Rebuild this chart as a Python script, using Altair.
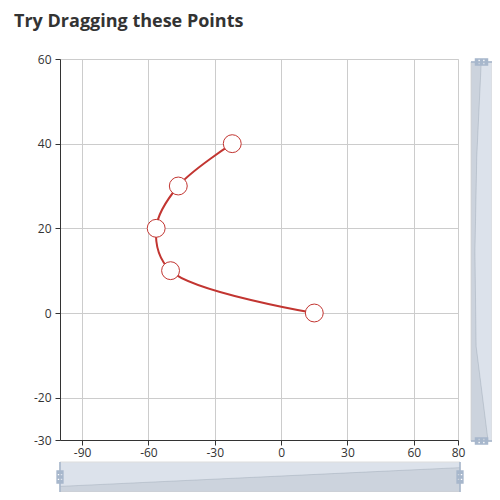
import altair as alt
import pandas as pd

# ---- data ----
idx = [0, 1, 2, 3, 4]
xs = [15, -50, -56.5, -46.5, -22.1]
ys = [0, 10, 20, 30, 40]

x_ticks = [-90, -60, -30, 0, 30, 60, 80]
y_ticks = [-30, -20, 0, 20, 40, 60]
x_domain = [-100, 80]
y_domain = [-30, 60]

title_text = "Try Dragging these Points"

RED = "#c23531"
FONT = "Open Sans"
TXT = "#333333"
FILLER = "#dce2eb"
SHADOW = "#2f4554"
HANDLE = "#a7b7cc"

W, H = 398, 381

df = pd.DataFrame({"i": idx, "x": xs, "y": ys})

# ---- main plot ----
xscale = alt.Scale(domain=x_domain, nice=False, zero=False)
yscale = alt.Scale(domain=y_domain, nice=False, zero=False)
common_axis = dict(title=None, grid=True, gridColor="#cccccc", gridWidth=1,
                   domainColor=TXT, domainWidth=1, tickColor=TXT, tickSize=5,
                   labelColor=TXT, labelFontSize=12, labelFont=FONT,
                   labelFlush=False, labelOverlap=False, labelBound=False,
                   labelExpr="datum.value + ''")
xaxis = alt.Axis(values=x_ticks, labelPadding=2, **common_axis)
yaxis = alt.Axis(values=y_ticks, labelPadding=4, **common_axis)

line = alt.Chart(df).mark_line(interpolate="catmull-rom", color=RED, strokeWidth=2).encode(
    x=alt.X("x:Q", scale=xscale, axis=xaxis),
    y=alt.Y("y:Q", scale=yscale, axis=yaxis),
    order=alt.Order("i:Q"),
)
points = alt.Chart(df).mark_circle(size=320, fill="white", stroke=RED, strokeWidth=1,
                                   opacity=1, fillOpacity=1).encode(
    x=alt.X("x:Q", scale=xscale, axis=xaxis),
    y=alt.Y("y:Q", scale=yscale, axis=yaxis),
)
main = alt.layer(line, points)

# handle glyphs (box with two slots), unit box -1..1
h_path = ("M-0.54,-1 L0.54,-1 L0.54,1 L-0.54,1 Z "
          "M-0.33,-0.45 L-0.33,-0.25 L0.33,-0.25 L0.33,-0.45 Z "
          "M-0.33,0.25 L-0.33,0.45 L0.33,0.45 L0.33,0.25 Z")
v_path = ("M-1,-0.54 L-1,0.54 L1,0.54 L1,-0.54 Z "
          "M-0.45,-0.33 L-0.25,-0.33 L-0.25,0.33 L-0.45,0.33 Z "
          "M0.25,-0.33 L0.45,-0.33 L0.45,0.33 L0.25,0.33 Z")

# ---- bottom slider (shadow of y values) ----
ymin, ymax = min(ys), max(ys)
yoff = (ymax - ymin) * 0.3
b_ext = [ymin - yoff, ymax + yoff]
bdf = pd.DataFrame({"i": idx, "v": ys, "base": [b_ext[0]] * len(idx)})
b_frame = pd.DataFrame({"i0": [idx[0]], "i1": [idx[-1]], "v0": [b_ext[0]], "v1": [b_ext[1]]})
b_edges = pd.DataFrame({"i": [idx[0], idx[-1]], "v0": [b_ext[0]] * 2, "v1": [b_ext[1]] * 2,
                        "vm": [(b_ext[0] + b_ext[1]) / 2] * 2})
bxs = alt.Scale(domain=[idx[0], idx[-1]], range=[0, 400], nice=False, zero=False)
bys = alt.Scale(domain=b_ext, range=[H + 52, H + 22], nice=False, zero=False)

b_bg = alt.Chart(b_frame).mark_rect(fill=FILLER, stroke="#dddddd", strokeWidth=1).encode(
    x=alt.X("i0:Q", scale=bxs, axis=None), x2="i1:Q",
    y=alt.Y("v0:Q", scale=bys, axis=None), y2="v1:Q")
b_area = alt.Chart(bdf).mark_area(color=SHADOW, opacity=0.09).encode(
    x=alt.X("i:Q", scale=bxs, axis=None),
    y=alt.Y("v:Q", scale=bys, axis=None), y2="base:Q")
b_line = alt.Chart(bdf).mark_line(color=SHADOW, strokeWidth=0.5, opacity=0.3).encode(
    x=alt.X("i:Q", scale=bxs, axis=None),
    y=alt.Y("v:Q", scale=bys, axis=None))
b_rule = alt.Chart(b_edges).mark_rule(color=HANDLE, strokeWidth=1.6).encode(
    x=alt.X("i:Q", scale=bxs, axis=None),
    y=alt.Y("v0:Q", scale=bys, axis=None), y2="v1:Q")
b_handle = alt.Chart(b_edges).mark_point(shape=h_path, size=182, filled=True,
                                         color=HANDLE, opacity=1).encode(
    x=alt.X("i:Q", scale=bxs, axis=None),
    y=alt.Y("vm:Q", scale=bys, axis=None))
bottom = alt.layer(b_bg, b_area, b_line, b_rule, b_handle)

# ---- right slider (shadow of x values) ----
xmin, xmax = min(xs), max(xs)
xoff = (xmax - xmin) * 0.3
r_ext = [xmin - xoff, xmax + xoff]
rdf = pd.DataFrame({"i": idx, "v": xs, "base": [r_ext[0]] * len(idx)})
r_frame = pd.DataFrame({"i0": [idx[0]], "i1": [idx[-1]], "v0": [r_ext[0]], "v1": [r_ext[1]]})
r_edges = pd.DataFrame({"i": [idx[0], idx[-1]], "v0": [r_ext[0]] * 2, "v1": [r_ext[1]] * 2,
                        "vm": [(r_ext[0] + r_ext[1]) / 2] * 2})
rxs = alt.Scale(domain=r_ext, range=[W + 13, W + 34], nice=False, zero=False)
rys = alt.Scale(domain=[idx[0], idx[-1]], range=[H + 1, 3], nice=False, zero=False)

r_bg = alt.Chart(r_frame).mark_rect(fill=FILLER, stroke="#dddddd", strokeWidth=1).encode(
    x=alt.X("v0:Q", scale=rxs, axis=None), x2="v1:Q",
    y=alt.Y("i0:Q", scale=rys, axis=None), y2="i1:Q")
r_area = alt.Chart(rdf).mark_area(color=SHADOW, opacity=0.09, orient="horizontal").encode(
    y=alt.Y("i:Q", scale=rys, axis=None),
    x=alt.X("v:Q", scale=rxs, axis=None), x2="base:Q")
r_line = alt.Chart(rdf).mark_line(color=SHADOW, strokeWidth=0.5, opacity=0.3).encode(
    x=alt.X("v:Q", scale=rxs, axis=None),
    y=alt.Y("i:Q", scale=rys, axis=None),
    order=alt.Order("i:Q"))
r_rule = alt.Chart(r_edges).mark_rule(color=HANDLE, strokeWidth=1.6).encode(
    y=alt.Y("i:Q", scale=rys, axis=None),
    x=alt.X("v0:Q", scale=rxs, axis=None), x2="v1:Q")
r_handle = alt.Chart(r_edges).mark_point(shape=v_path, size=182, filled=True,
                                         color=HANDLE, opacity=1).encode(
    x=alt.X("vm:Q", scale=rxs, axis=None),
    y=alt.Y("i:Q", scale=rys, axis=None))
right = alt.layer(r_bg, r_area, r_line, r_rule, r_handle)

chart = alt.layer(main, bottom, right).resolve_scale(
    x="independent", y="independent"
).properties(
    width=W, height=H,
    title=alt.Title(title_text, anchor="start", frame="group", font=FONT, fontSize=18,
                    fontWeight="bold", color=TXT, dx=-46, dy=-18),
    autosize=alt.AutoSizeParams(type="none"),
    padding={"left": 52, "top": 51, "right": 34, "bottom": 52},
).configure_view(stroke=None).configure(background="white")

chart.save("out.html", embed_options={"renderer": "svg", "actions": False})
